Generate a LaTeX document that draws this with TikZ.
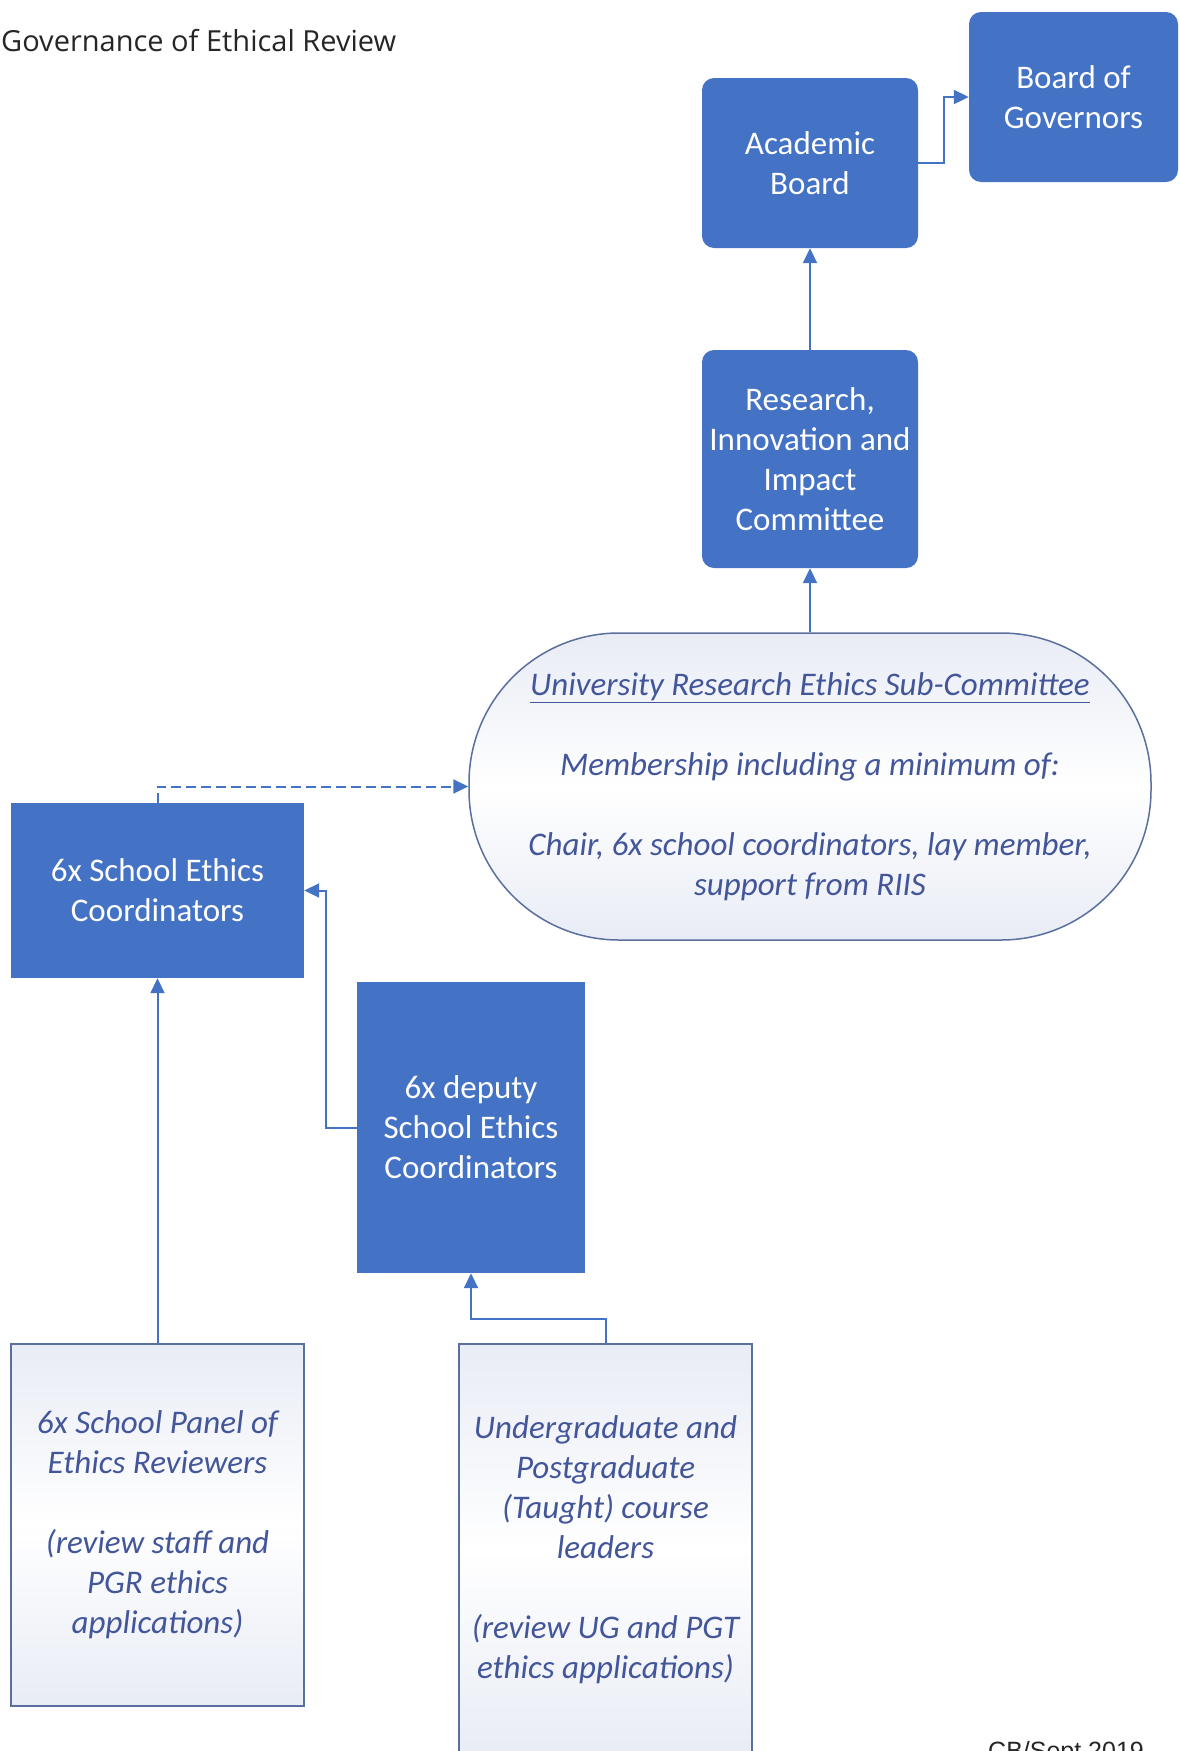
\documentclass[tikz,border=0pt]{standalone}
\usepackage{fontspec}
\setmainfont{Carlito}
\newfontfamily\titlefont{Open Sans}
\newfontfamily\footfont{Liberation Sans}
\usetikzlibrary{arrows.meta,calc}
\definecolor{boxblue}{HTML}{4472C4}
\definecolor{lightline}{HTML}{5B6F9E}
\definecolor{itxt}{HTML}{43569A}
\definecolor{lightfill}{HTML}{E8ECF5}
\begin{document}
\begin{tikzpicture}[x=1pt,y=-1pt,
  solidbox/.style={draw=none, fill=boxblue, text=white, font=\fontsize{33}{40}\selectfont, align=center, inner sep=0pt},
  roundbox/.style={solidbox, rounded corners=12pt},
  lightbox/.style={draw=lightline, line width=1.5pt, top color=lightfill, bottom color=lightfill, middle color=white, text=itxt, font=\fontsize{33}{40}\selectfont\itshape, align=center, inner sep=0pt},
  arr/.style={draw=boxblue, line width=2pt, -{Triangle[length=15pt,width=14pt]}},
]
\useasboundingbox (0,0) rectangle (1180,1751);
\fill[white] (0,0) rectangle (1180,1751);
\clip (0,0) rectangle (1180,1751);

\node[anchor=west, inner sep=0pt, font=\titlefont\fontsize{29}{34}\selectfont, text=black!85] (title) at (1,41) {Governance of Ethical Review};

\node[roundbox, minimum width=216pt, minimum height=170pt] (acad) at (810,163) {Academic\\Board};
\node[roundbox, minimum width=209pt, minimum height=170pt] (gov) at (1073.5,97) {Board of\\Governors};
\node[roundbox, minimum width=216pt, minimum height=218pt] (rii) at (810,459) {Research,\\Innovation and\\Impact\\Committee};
\node[lightbox, rounded corners=150pt, minimum width=682pt, minimum height=307pt] (ures) at (810,786.5)
  {\underline{University Research Ethics Sub-Committee}\\[40pt]
   Membership including a minimum of:\\[40pt]
   Chair, 6x school coordinators, lay member,\\support from RIIS};
\node[solidbox, minimum width=293pt, minimum height=175pt] (sec) at (157.5,890.5) {6x School Ethics\\Coordinators};
\node[solidbox, minimum width=228pt, minimum height=291pt] (dep) at (471,1127.5) {6x deputy\\School Ethics\\Coordinators};
\node[lightbox, minimum width=293pt, minimum height=362pt] (panel) at (157.5,1525)
  {6x School Panel of\\Ethics Reviewers\\[40pt](review staff and\\PGR ethics\\applications)};
\node[lightbox, minimum width=293pt, minimum height=412pt] (ugpg) at (605.5,1550)
  {Undergraduate and\\Postgraduate\\(Taught) course\\leaders\\[40pt](review UG and PGT\\ethics applications)};

\node[anchor=base west, inner sep=0pt, font=\footfont\fontsize{25}{30}\selectfont, text=black!85] (foot) at (988,1759) {CB/Sept 2019};

\draw[arr] (rii.north) -- (acad.south);
\draw[arr] (acad.east) -- ++(26,0) |- (gov.west);
\draw[arr] (ures.north) -- (rii.south);
\draw[arr, dash pattern=on 10pt off 5pt] (sec.north) |- (ures.west);
\draw[arr] (dep.west) -- ++(-31,0) |- (sec.east);
\draw[arr] (panel.north) -- (sec.south);
\draw[arr] (ugpg.north) -- ++(0,-24) -| (dep.south);
\end{tikzpicture}
\end{document}
